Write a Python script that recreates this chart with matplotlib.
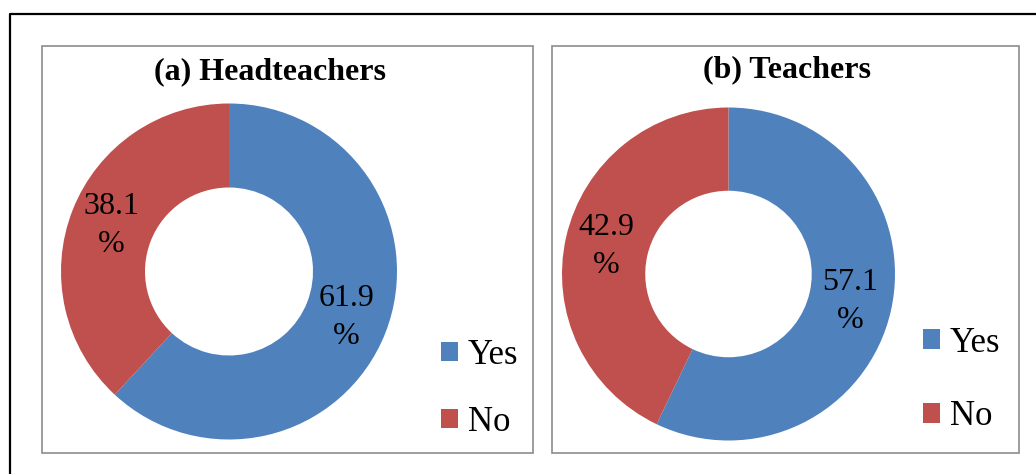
import matplotlib
matplotlib.use("Agg")
import matplotlib.pyplot as plt
from matplotlib.lines import Line2D
from matplotlib.patches import Rectangle

plt.rcParams["font.family"] = ["Liberation Serif", "DejaVu Serif"]

# data
categories = ["Yes", "No"]
headteachers = [61.9, 38.1]
teachers = [57.1, 42.9]
titles = ["(a) Headteachers", "(b) Teachers"]
colors = ["#4F81BD", "#C0504D"]

W, H = 1036, 474
fig = plt.figure(figsize=(W / 100, H / 100), dpi=100)


def px_box(x0, y0, x1, y1):
    """Pixel box (top-left origin) -> figure fraction [l, b, w, h]."""
    return [x0 / W, 1 - y1 / H, (x1 - x0) / W, (y1 - y0) / H]


# outer black frame (only top/left edges visible in the crop)
fig.add_artist(Line2D([10 / W, 10 / W, 1.05], [-0.05, 1 - 14 / H, 1 - 14 / H],
                      transform=fig.transFigure, color="black", lw=1.6))

panels = [
    dict(box=(42, 46, 533, 453), center=(229, 271.5), r=168, title_xy=(270, 72),
         leg_xy=(441, 389), labelspacing=0.98, values=headteachers),
    dict(box=(552, 46, 1019, 453), center=(728.5, 274), r=166.5, title_xy=(787, 70),
         leg_xy=(923, 380), labelspacing=1.18, values=teachers),
]

for p, title in zip(panels, titles):
    x0, y0, x1, y1 = p["box"]
    fig.add_artist(Rectangle((x0 / W, 1 - y1 / H), (x1 - x0) / W, (y1 - y0) / H,
                             transform=fig.transFigure, fill=False,
                             edgecolor="#8c8c8c", lw=1.2))
    cx, cy = p["center"]
    r = p["r"]
    ax = fig.add_axes(px_box(cx - r, cy - r, cx + r, cy + r))
    wedges, _, autotexts = ax.pie(
        p["values"], colors=colors, startangle=90, counterclock=False,
        radius=1.0, wedgeprops=dict(width=0.5, linewidth=0),
        autopct=lambda v: f"{v:.1f}\n%", pctdistance=0.75,
        textprops=dict(fontsize=23, color="black"))
    for t in autotexts:
        t.set_linespacing(1.42)
    ax.set_xlim(-1, 1)
    ax.set_ylim(-1, 1)
    ax.axis("off")

    tx, ty = p["title_xy"]
    fig.text(tx / W, 1 - ty / H, title, ha="center", va="center",
             fontsize=23, fontweight="bold")

    lx, ly = p["leg_xy"]
    fig.legend(wedges, categories, loc="center left",
               bbox_to_anchor=(lx / W, 1 - ly / H), frameon=False,
               fontsize=25, handlelength=0.49, handleheight=0.49,
               handletextpad=0.29, labelspacing=p["labelspacing"],
               borderpad=0, borderaxespad=0)

fig.savefig("out.png", dpi=100)
